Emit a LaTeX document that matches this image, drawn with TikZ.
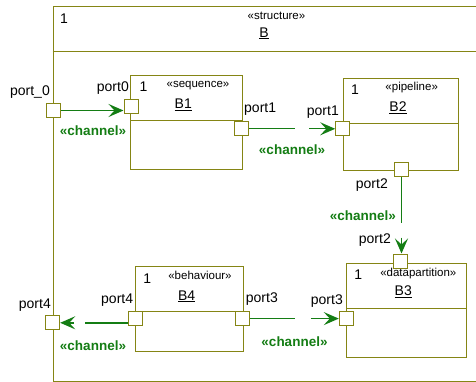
\documentclass[tikz,border=0pt]{standalone}
\usepackage{fontspec}
\setmainfont{Liberation Sans}
\usetikzlibrary{arrows.meta}
\definecolor{frame}{RGB}{133,133,20}
\definecolor{chan}{RGB}{20,125,20}
\tikzset{
  part/.style={draw=frame, line width=1pt, fill=white, inner sep=0pt, anchor=north west},
  divider/.style={draw=frame, line width=1pt},
  portbox/.style={draw=frame, line width=1pt, fill=white, minimum size=14pt, inner sep=0pt},
  conn/.style={draw=chan, line width=1.4pt},
  arr/.style={conn, -{Stealth[length=15pt,width=13pt,inset=6pt]}},
  lbl/.style={inner sep=0pt, font=\fontsize{14}{16}\selectfont},
  stereo/.style={inner sep=0pt, font=\fontsize{11.5}{13}\selectfont, anchor=base},
  chanlbl/.style={inner sep=0pt, text=chan, font=\bfseries\fontsize{13.5}{16}\selectfont},
}
\begin{document}
\begin{tikzpicture}[x=1pt,y=-1pt]
\clip (0,0) rectangle (476,382);

% enclosing structure B
\node[part, minimum width=428pt, minimum height=375pt] (B) at (52.5,6) {};
\draw[divider] (52.5,52) -- (480,52);
\node[lbl, anchor=base] (Bm) at (64,23.3) {1};
\node[stereo] (Bs) at (276.5,19.5) {«structure»};
\node[lbl, anchor=base] (Bn) at (264,37.3) {\underline{B}};

% part B1
\node[part, minimum width=112pt, minimum height=94.6pt] (B1) at (130.3,74.7) {};
\draw[divider] (130.3,121) -- (242.3,121);
\node[lbl, anchor=base] (B1m) at (143.5,91.5) {1};
\node[stereo] (B1s) at (198,88) {«sequence»};
\node[lbl, anchor=base] (B1n) at (183.3,108.5) {\underline{B1}};

% part B2
\node[part, minimum width=115.6pt, minimum height=91.7pt] (B2) at (342.7,78.3) {};
\draw[divider] (342.7,124) -- (458.3,124);
\node[lbl, anchor=base] (B2m) at (355,95) {1};
\node[stereo] (B2s) at (411.7,90.5) {«pipeline»};
\node[lbl, anchor=base] (B2n) at (398,112) {\underline{B2}};

% part B3
\node[part, minimum width=119.7pt, minimum height=94pt] (B3) at (346,262.7) {};
\draw[divider] (346,308.3) -- (465.7,308.3);
\node[lbl, anchor=base] (B3m) at (358.3,279.3) {1};
\node[stereo] (B3s) at (418.3,276) {«datapartition»};
\node[lbl, anchor=base] (B3n) at (403.3,295.7) {\underline{B3}};

% part B4
\node[part, minimum width=108pt, minimum height=85pt] (B4) at (135.3,265.7) {};
\draw[divider] (135.3,311.7) -- (243.3,311.7);
\node[lbl, anchor=base] (B4m) at (147.3,283.3) {1};
\node[stereo] (B4s) at (200,279.3) {«behaviour»};
\node[lbl, anchor=base] (B4n) at (186.7,300) {\underline{B4}};

% ports
\node[portbox] (op0) at (53.5,110.5) {};
\node[portbox] (op4) at (52.7,322.8) {};
\node[portbox] (b1p0) at (131,106.3) {};
\node[portbox] (b1p1) at (241.5,128.8) {};
\node[portbox] (b2p1) at (342.7,128.8) {};
\node[portbox] (b2p2) at (401.5,170) {};
\node[portbox] (b3p2) at (400,261) {};
\node[portbox] (b3p3) at (346.3,318.6) {};
\node[portbox] (b4p3) at (242.8,318.6) {};
\node[portbox] (b4p4) at (135.3,318) {};

% port labels
\node[lbl, anchor=base east] (lop0) at (50,96) {port\_0};
\node[lbl, anchor=base east] (lop4) at (51,308) {port4};
\node[lbl, anchor=base east] (lb1p0) at (129,91.5) {port0};
\node[lbl, anchor=base west] (lb1p1) at (244,113) {port1};
\node[lbl, anchor=base east] (lb2p1) at (339,115.5) {port1};
\node[lbl, anchor=base east] (lb2p2) at (388,188) {port2};
\node[lbl, anchor=base east] (lb3p2) at (391,243) {port2};
\node[lbl, anchor=base east] (lb3p3) at (343,304.5) {port3};
\node[lbl, anchor=base west] (lb4p3) at (245.7,302.3) {port3};
\node[lbl, anchor=base east] (lb4p4) at (133.3,303.3) {port4};

% channels
\draw[arr] (op0.east) -- (op0.east -| b1p0.west);
\node[chanlbl, anchor=base] (c0) at (93,136) {«channel»};

\path (b1p1.east) -- (b2p1.west) coordinate[pos=0.53] (g1a) coordinate[pos=0.7] (g1b);
\draw[conn] (b1p1.east) -- (g1a);
\draw[arr] (g1b) -- (b2p1.west);
\node[chanlbl, anchor=base] (c1) at (292,155) {«channel»};

\path (b2p2.south) -- (b2p2.south |- b3p2.north) coordinate[pos=0.6] (g2a) coordinate[pos=0.79] (g2b);
\draw[conn] (b2p2.south) -- (g2a);
\draw[arr] (g2b) -- (b2p2.south |- b3p2.north);
\node[chanlbl, anchor=base east] (c2) at (396,220) {«channel»};

\path (b4p3.east) -- (b3p3.west) coordinate[pos=0.51] (g3a) coordinate[pos=0.685] (g3b);
\draw[conn] (b4p3.east) -- (g3a);
\draw[arr] (g3b) -- (b3p3.west);
\node[chanlbl, anchor=base] (c3) at (294.5,346) {«channel»};

\path (op4.east -| b4p4.west) -- (op4.east) coordinate[pos=0.64] (g4a) coordinate[pos=0.8] (g4b);
\draw[conn] (op4.east -| b4p4.west) -- (g4a);
\draw[arr] (g4b) -- (op4.east);
\node[chanlbl, anchor=base] (c4) at (93,350.5) {«channel»};
\end{tikzpicture}
\end{document}
